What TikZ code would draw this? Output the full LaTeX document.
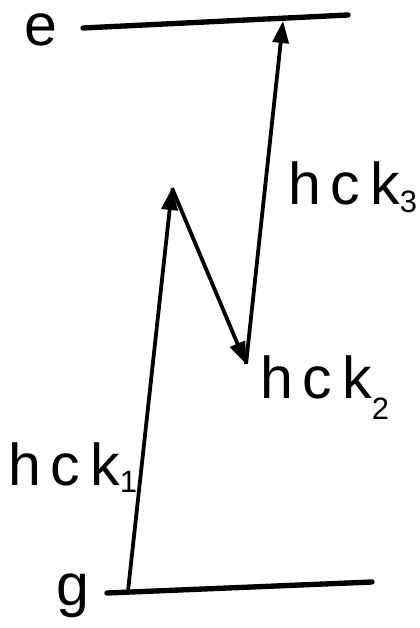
\documentclass[tikz,border=0pt]{standalone}
\usepackage{fontspec}
\setmainfont{Liberation Sans}
\usetikzlibrary{arrows.meta}
\newcommand{\lowsub}[2]{\raisebox{-#1pt}{\fontsize{22}{22}\selectfont #2}}

\begin{document}
\begin{tikzpicture}[x=0.025cm,y=-0.025cm,font=\fontsize{42}{50}\selectfont,
    level/.style={line width=3.8pt,line cap=round},
    photon/.style={line width=2.7pt,-{Triangle[length=5.5mm,width=4mm]}},
    lbl/.style={inner sep=0pt,anchor=base west}]
  \useasboundingbox (0,0) rectangle (419,628);
  % ---- levels ----
  \coordinate (eL) at (83,28);
  \coordinate (eR) at (348,15);
  \coordinate (gL) at (107,593);
  \coordinate (gR) at (372,582);
  \draw[level] (eL) -- (eR);
  \draw[level] (gL) -- (gR);
  \node (e) [inner sep=0pt] at (41,30) {e};
  \node (g) [inner sep=0pt] at (73,596) {g};
  % ---- transitions ----
  \coordinate (start) at (128,591);
  \coordinate (top1) at (172,188);
  \coordinate (low2) at (246,364);
  \coordinate (top3) at (283,21);
  \draw[photon] (start) -- (top1);
  \draw[photon] (top1) -- (low2);
  \draw[photon] (low2) -- (top3);
  % ---- labels ----
  \node (k1) [lbl] at (8,485) {h\,c\,k\lowsub{5}{1}};
  \node (k2) [lbl] at (260,398) {h\,c\,k\lowsub{15}{2}};
  \node (k3) [lbl] at (288,205) {h\,c\,k\lowsub{5}{3}};
\end{tikzpicture}
\end{document}
